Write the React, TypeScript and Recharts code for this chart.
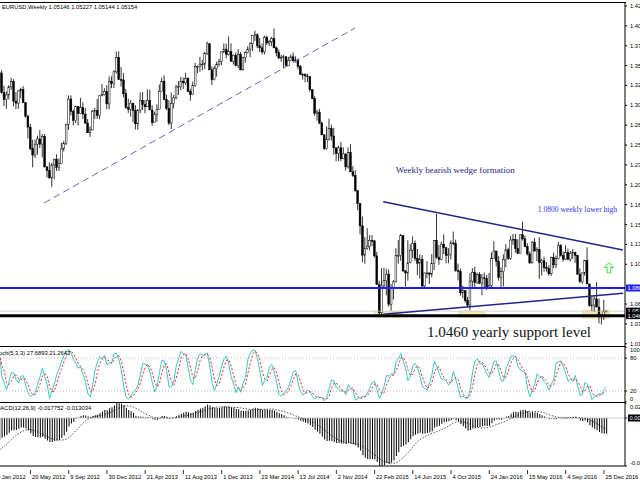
import React from 'react';
import { ComposedChart, Bar, Line, XAxis, YAxis, ReferenceLine, ReferenceArea, ReferenceDot } from 'recharts';

// Weekly EURUSD bars, index 0 = week of 19 Feb 2012 ... index 254 = week of 1 Jan 2017
const firstOpen = 1.3240;
const closes = [
  1.3446,1.3205,1.3120,1.3175,1.3275,1.3340,1.3100,1.3075,1.3225,1.3240,
  1.3080,1.2915,1.2780,1.2515,1.2435,1.2570,1.2635,1.2570,1.2665,1.2290,
  1.2245,1.2155,1.2315,1.2385,1.2285,1.2335,1.2510,1.2580,1.2815,1.3125,
  1.2975,1.2860,1.3035,1.2950,1.3020,1.2940,1.2830,1.2710,1.2745,1.2975,
  1.2985,1.2925,1.3165,1.3180,1.3215,1.3065,1.3345,1.3315,1.3460,1.3635,
  1.3365,1.3360,1.3190,1.3020,1.3000,1.3075,1.2985,1.2820,1.2990,1.3110,
  1.3055,1.3030,1.3110,1.2990,1.2835,1.2935,1.3000,1.3220,1.3345,1.3120,
  1.3010,1.2830,1.3070,1.3140,1.3275,1.3280,1.3345,1.3325,1.3375,1.3220,
  1.3180,1.3290,1.3525,1.3525,1.3555,1.3555,1.3685,1.3805,1.3485,1.3365,
  1.3500,1.3555,1.3590,1.3705,1.3740,1.3675,1.3710,1.3590,1.3665,1.3540,
  1.3675,1.3485,1.3635,1.3695,1.3740,1.3805,1.3910,1.3915,1.3780,1.3755,
  1.3705,1.3885,1.3815,1.3830,1.3870,1.3755,1.3695,1.3630,1.3640,1.3645,
  1.3540,1.3600,1.3645,1.3595,1.3605,1.3525,1.3430,1.3425,1.3410,1.3400,
  1.3240,1.3130,1.2950,1.2965,1.2830,1.2685,1.2515,1.2625,1.2760,1.2670,
  1.2525,1.2455,1.2525,1.2390,1.2450,1.2290,1.2465,1.2230,1.2185,1.2000,
  1.1840,1.1565,1.1205,1.1290,1.1315,1.1385,1.1380,1.1195,1.0845,1.0495,
  1.0825,1.0890,1.0970,1.0600,1.0805,1.0875,1.1200,1.1200,1.1445,1.1010,
  1.0985,1.1110,1.1265,1.1350,1.1165,1.1105,1.1155,1.0825,1.0985,1.0985,
  1.0970,1.1105,1.1385,1.1180,1.1150,1.1340,1.1295,1.1200,1.1215,1.1355,
  1.1350,1.1015,1.1005,1.0740,1.0770,1.0645,1.0590,1.0885,1.0990,1.0865,
  1.0965,1.0860,1.0925,1.0915,1.0795,1.0830,1.1160,1.1255,1.1130,1.0930,
  1.1000,1.1150,1.1270,1.1165,1.1390,1.1400,1.1285,1.1225,1.1455,1.1405,
  1.1310,1.1220,1.1110,1.1365,1.1255,1.1275,1.1115,1.1135,1.1050,1.1040,
  1.0975,1.1175,1.1085,1.1160,1.1325,1.1200,1.1155,1.1235,1.1155,1.1225,
  1.1240,1.1200,1.0970,1.0880,1.0985,1.1140,1.0850,1.0585,1.0590,1.0665,
  1.0565,1.0450,1.0455,1.0515,1.05154,
];
const highs = [
  1.3486,1.3480,1.3290,1.3220,1.3295,1.3385,1.3370,1.3210,1.3235,1.3265,
  1.3285,1.3080,1.2930,1.2820,1.2625,1.2625,1.2675,1.2745,1.2695,1.2695,
  1.2300,1.2345,1.2340,1.2390,1.2445,1.2395,1.2590,1.2610,1.2820,1.3170,
  1.3170,1.2995,1.3045,1.3020,1.3140,1.3085,1.3015,1.2880,1.2790,1.2990,
  1.3015,1.3125,1.3170,1.3310,1.3260,1.3295,1.3405,1.3405,1.3480,1.3711,
  1.3710,1.3520,1.3445,1.3250,1.3130,1.3110,1.3055,1.3050,1.3000,1.3205,
  1.3210,1.3115,1.3245,1.3240,1.3050,1.2970,1.3060,1.3305,1.3390,1.3416,
  1.3180,1.3110,1.3205,1.3175,1.3300,1.3345,1.3400,1.3390,1.3450,1.3395,
  1.3250,1.3340,1.3570,1.3540,1.3645,1.3605,1.3705,1.3832,1.3815,1.3525,
  1.3530,1.3585,1.3620,1.3710,1.3810,1.3810,1.3894,1.3810,1.3675,1.3700,
  1.3740,1.3705,1.3645,1.3715,1.3775,1.3825,1.3915,1.3967,1.3935,1.3875,
  1.3810,1.3905,1.3905,1.3855,1.3890,1.3993,1.3770,1.3735,1.3670,1.3670,
  1.3650,1.3645,1.3675,1.3700,1.3650,1.3625,1.3545,1.3445,1.3445,1.3435,
  1.3400,1.3235,1.3160,1.2995,1.3005,1.2850,1.2690,1.2790,1.2885,1.2810,
  1.2770,1.2530,1.2550,1.2600,1.2530,1.2455,1.2530,1.2570,1.2300,1.2250,
  1.1970,1.1845,1.1680,1.1425,1.1535,1.1450,1.1450,1.1390,1.1245,1.0890,
  1.1045,1.1050,1.1035,1.1030,1.0850,1.0900,1.1290,1.1390,1.1465,1.1440,
  1.1020,1.1385,1.1340,1.1435,1.1385,1.1280,1.1215,1.1205,1.0990,1.1130,
  1.0990,1.1215,1.1390,1.1714,1.1330,1.1370,1.1460,1.1305,1.1290,1.1385,
  1.1495,1.1395,1.1100,1.1040,1.0830,1.0760,1.0690,1.0985,1.1045,1.1060,
  1.0990,1.0995,1.0970,1.0990,1.0960,1.0985,1.1240,1.1376,1.1250,1.1190,
  1.1055,1.1215,1.1340,1.1295,1.1440,1.1465,1.1465,1.1400,1.1460,1.1616,
  1.1445,1.1350,1.1250,1.1375,1.1415,1.1300,1.1425,1.1160,1.1185,1.1120,
  1.1080,1.1185,1.1235,1.1200,1.1365,1.1340,1.1250,1.1325,1.1285,1.1255,
  1.1280,1.1245,1.1210,1.1040,1.0990,1.1145,1.1300,1.0810,1.0690,1.0700,
  1.0875,1.0670,1.0480,1.0653,1.05227,
];
const lows = [
  1.3180,1.3190,1.3040,1.3005,1.3120,1.3240,1.3035,1.3000,1.3005,1.3135,
  1.3080,1.2895,1.2640,1.2495,1.2285,1.2400,1.2440,1.2520,1.2405,1.2285,
  1.2160,1.2145,1.2042,1.2135,1.2240,1.2240,1.2335,1.2480,1.2560,1.2745,
  1.2925,1.2800,1.2830,1.2800,1.2945,1.2880,1.2820,1.2710,1.2660,1.2740,
  1.2880,1.2880,1.2875,1.3160,1.3170,1.3000,1.2998,1.3260,1.3260,1.3440,
  1.3360,1.3280,1.3145,1.3005,1.2955,1.2910,1.2840,1.2750,1.2745,1.2950,
  1.2990,1.2950,1.3030,1.2990,1.2795,1.2840,1.2845,1.3000,1.3220,1.3110,
  1.2990,1.2805,1.2755,1.3010,1.3120,1.3175,1.3235,1.3250,1.3300,1.3210,
  1.3105,1.3180,1.3275,1.3445,1.3460,1.3480,1.3495,1.3665,1.3480,1.3296,
  1.3355,1.3400,1.3525,1.3540,1.3690,1.3625,1.3660,1.3585,1.3550,1.3525,
  1.3505,1.3478,1.3475,1.3575,1.3685,1.3640,1.3715,1.3840,1.3750,1.3705,
  1.3675,1.3675,1.3790,1.3780,1.3775,1.3750,1.3650,1.3615,1.3585,1.3505,
  1.3525,1.3530,1.3590,1.3580,1.3575,1.3490,1.3420,1.3365,1.3330,1.3335,
  1.3215,1.3125,1.2920,1.2860,1.2815,1.2680,1.2500,1.2505,1.2615,1.2615,
  1.2440,1.2360,1.2360,1.2360,1.2385,1.2245,1.2270,1.2225,1.2165,1.1985,
  1.1755,1.1460,1.1115,1.1098,1.1270,1.1260,1.1315,1.1175,1.0835,1.0460,
  1.0458,1.0800,1.0710,1.0570,1.0520,1.0660,1.0870,1.1100,1.1135,1.1000,
  1.0820,1.0890,1.1105,1.1170,1.1130,1.0955,1.0915,1.0810,1.0810,1.0920,
  1.0850,1.0930,1.1020,1.1160,1.1085,1.1140,1.1215,1.1105,1.1105,1.1150,
  1.1325,1.1000,1.0895,1.0705,1.0675,1.0620,1.0560,1.0524,1.0800,1.0805,
  1.0850,1.0850,1.0710,1.0805,1.0775,1.0810,1.0810,1.1160,1.1065,1.0890,
  1.0810,1.0820,1.1055,1.1145,1.1145,1.1330,1.1235,1.1215,1.1245,1.1385,
  1.1300,1.1200,1.1095,1.1100,1.1250,1.1130,1.0910,1.0955,1.1000,1.1000,
  1.0950,1.0950,1.1045,1.1045,1.1150,1.1185,1.1125,1.1145,1.1140,1.1125,
  1.1160,1.1110,1.0965,1.0860,1.0850,1.0950,1.0850,1.0570,1.0518,1.0505,
  1.0565,1.0365,1.0352,1.0405,1.05144,
];

// Date axis (one label every 16 weeks, by bar index)
const dateTickIndex = [-3, 13, 29, 45, 61, 77, 93, 109, 125, 141, 157, 173, 189, 205, 221, 237, 253];
const dateTickLabels = ['29 Jan 2012', '20 May 2012', '9 Sep 2012', '30 Dec 2012', '21 Apr 2013', '11 Aug 2013', '1 Dec 2013', '23 Mar 2014', '13 Jul 2014', '2 Nov 2014', '22 Feb 2015', '14 Jun 2015', '4 Oct 2015', '24 Jan 2016', '15 May 2016', '4 Sep 2016', '25 Dec 2016'];
// price scale labels (the 1.0847 level is hidden behind the 1.08000 box in the reference)
const priceTicks = [1.427, 1.40255, 1.3781, 1.35365, 1.3292, 1.30475, 1.2803, 1.25585, 1.2314, 1.20695, 1.1825, 1.15805, 1.1336, 1.10915, 1.06025, 1.0358, 1.01135];

// Annotations (index, price)
const trendDashed = [{ x: 18.7, y: 1.1846 }, { x: 148.8, y: 1.3999 }];
const wedgeUpper = [{ x: 160.6, y: 1.1862 }, { x: 260.9, y: 1.1268 }];
const wedgeLower = [{ x: 160.6, y: 1.0476 }, { x: 261.0, y: 1.0735 }];
const lowerHighLevel = 1.08;
const supportLevel = 1.046;
const bidLevel = 1.05154;
const supportZones = [
  { x1: 156.7, x2: 168.4, y1: 1.0431, y2: 1.0517 },
  { x1: 191.9, x2: 203.6, y1: 1.0431, y2: 1.0517 },
  { x1: 243.8, x2: 255.5, y1: 1.0420, y2: 1.0535 },
];

// indicator seeds (state of the averages before the first visible bar)
const macdSeedFast = 1.3080;
const macdSeedSlow = 1.3380;
const macdPrior = [-0.040, -0.041, -0.041, -0.040, -0.038, -0.036, -0.034, -0.031];

const X_DOMAIN: [number, number] = [0.25, 261.8];
const PRICE_DOMAIN: [number, number] = [1.00863, 1.43069];

const opens = closes.map((_, i) => (i === 0 ? firstOpen : closes[i - 1]));
opens[254] = 1.05146;

const priceRows = closes.map((c, i) => ({ i, o: opens[i], hi: highs[i], lo: lows[i], c, range: [lows[i], highs[i]] }));

function emaSeries(vals: number[], period: number, seed: number) {
  const a = 2 / (period + 1);
  let e = seed;
  return vals.map((v) => (e = e + a * (v - e)));
}
const ema12 = emaSeries(closes, 12, macdSeedFast);
const ema26 = emaSeries(closes, 26, macdSeedSlow);
const macd = ema12.map((v, i) => v - ema26[i]);
const macdAll = [...macdPrior, ...macd];
const signal = macd.map((_, i) => {
  const w = macdAll.slice(i, i + 9);
  return w.reduce((s, v) => s + v, 0) / w.length;
});
const MACD_DOMAIN: [number, number] = [Math.min(...macd, ...signal), Math.max(...macd, ...signal)];

const kParts = closes.map((c, i) => {
  const s = Math.max(0, i - 4);
  const lo = Math.min(...lows.slice(s, i + 1));
  const hi = Math.max(...highs.slice(s, i + 1));
  return [c - lo, hi - lo];
});
const stochK = kParts.map((_, i) => {
  let n = 0, d = 0;
  for (let j = Math.max(0, i - 2); j <= i; j++) { n += kParts[j][0]; d += kParts[j][1]; }
  return d > 0 ? (n / d) * 100 : 50;
});
const stochD = stochK.map((_, i) => {
  const w = stochK.slice(Math.max(0, i - 2), i + 1);
  return w.reduce((s, v) => s + v, 0) / w.length;
});

const indRows = closes.map((_, i) => ({ i, k: stochK[i], d: stochD[i], macd: macd[i], sig: signal[i] }));

const FONT = 'Liberation Sans, Arial, sans-serif';
const SERIF = 'Liberation Serif, Times New Roman, serif';

const Candle = (props: any) => {
  const { x, y, width, height, payload } = props;
  if (!payload || x == null) return null;
  const top = Math.min(y, y + height);
  const h = Math.abs(height);
  const span = payload.hi - payload.lo || 1e-9;
  const yO = top + ((payload.hi - payload.o) / span) * h;
  const yC = top + ((payload.hi - payload.c) / span) * h;
  const cx = x + width / 2;
  const bull = payload.c >= payload.o;
  const bTop = Math.min(yO, yC);
  const bH = Math.max(0.8, Math.abs(yC - yO));
  return (
    <g>
      <line x1={cx} x2={cx} y1={top} y2={top + h} stroke="#000" strokeWidth={0.8} />
      <rect x={cx - 0.9} y={bTop} width={1.8} height={bH} fill={bull ? '#fff' : '#000'} stroke="#000" strokeWidth={0.5} />
    </g>
  );
};

const PriceTick = (props: any) => {
  const { x, y, payload } = props;
  return (
    <text x={x + 1} y={y + 2} fontSize={5.8} fontFamily={FONT} fill="#000" textAnchor="start">
      {Number(payload.value).toFixed(5)}
    </text>
  );
};

const boxLabel = (text: string, fill: string) => (props: any) => {
  const vb = props.viewBox || {};
  const bx = (vb.x || 0) + (vb.width || 0) + 1;
  const by = vb.y || 0;
  return (
    <g>
      <rect x={bx} y={by - 3.5} width={20} height={7} fill={fill} />
      <text x={bx + 1.5} y={by + 2} fontSize={5.8} fontFamily={FONT} fill="#fff">{text}</text>
    </g>
  );
};

const textShape = (text: string, size: number, color: string, family: string) => (props: any) => (
  <text x={props.cx} y={props.cy} fontSize={size} fill={color} fontFamily={family} textAnchor="start">{text}</text>
);

const arrowShape = (props: any) => {
  const { cx, cy } = props;
  const pts = [[0, -5.5], [4.5, -0.5], [1.8, -0.5], [1.8, 5], [-1.8, 5], [-1.8, -0.5], [-4.5, -0.5]]
    .map(([a, b]) => `${cx + a},${cy + b}`).join(' ');
  return <polygon points={pts} fill="#fff" stroke="#3ee03e" strokeWidth={1} />;
};

const StochTick = (props: any) => {
  const { x, y, payload } = props;
  const v = payload.value;
  const dy = v === 100 ? 4.5 : v === 0 ? -1 : 2;
  return <text x={x + 1} y={y + dy} fontSize={5.8} fontFamily={FONT} fill="#000">{v}</text>;
};

const MacdTick = (props: any) => {
  const { x, y, payload } = props;
  const v = payload.value;
  if (v === 0) {
    return (
      <g>
        <rect x={x - 1} y={y - 3.5} width={16} height={7} fill="#000" />
        <text x={x + 0.5} y={y + 2} fontSize={5.8} fontFamily={FONT} fill="#fff">0.00</text>
      </g>
    );
  }
  const label = v > 0 ? '0.020713' : '-0.057236';
  const dy = v > 0 ? 6 : -1;
  return <text x={x + 1} y={y + dy} fontSize={5.8} fontFamily={FONT} fill="#000">{label}</text>;
};

const DateTick = (props: any) => {
  const { x, y, payload } = props;
  const idx = dateTickIndex.indexOf(payload.value);
  return (
    <g>
      <line x1={x} x2={x} y1={y - 4} y2={y} stroke="#000" strokeWidth={0.8} />
      <text x={x + 1.5} y={y + 5} fontSize={5.8} fontFamily={FONT} fill="#000">{dateTickLabels[idx] || ''}</text>
    </g>
  );
};

export default function App() {
  return (
    <div style={{ position: 'absolute', left: 0, top: 0, width: 640, height: 480, overflow: 'hidden', background: '#fff' }}>
      <div style={{ position: 'absolute', left: 0, top: 0 }}>
        <ComposedChart width={640} height={347} data={priceRows} margin={{ top: 3, right: 0, bottom: 1, left: 0 }}>
          <XAxis dataKey="i" type="number" domain={X_DOMAIN} allowDataOverflow hide />
          <YAxis orientation="right" width={15} domain={PRICE_DOMAIN} allowDataOverflow ticks={priceTicks}
            tick={<PriceTick />} tickSize={2} tickLine={{ stroke: '#000' }} axisLine={{ stroke: '#000' }} interval={0} />
          {supportZones.map((z, n) => (
            <ReferenceArea key={n} x1={z.x1} x2={z.x2} y1={z.y1} y2={z.y2} fill="#ece39a" fillOpacity={0.75} stroke="none" />
          ))}
          <ReferenceLine y={bidLevel} stroke="#c8c8c8" strokeWidth={0.8} label={boxLabel('1.05154', '#000')} />
          <ReferenceLine y={supportLevel} stroke="#000" strokeWidth={3} label={boxLabel('1.04600', '#000')} />
          <ReferenceLine y={lowerHighLevel} stroke="#1e1eee" strokeWidth={2} label={boxLabel('1.08000', '#1e1eee')} />
          <Bar dataKey="range" barSize={2} shape={<Candle />} isAnimationActive={false} />
          <ReferenceLine segment={trendDashed} stroke="#6a6ab4" strokeWidth={1} strokeDasharray="7 4" />
          <ReferenceLine segment={wedgeUpper} stroke="#22228a" strokeWidth={1.5} />
          <ReferenceLine segment={wedgeLower} stroke="#22228a" strokeWidth={1.5} />
          <ReferenceDot x={165.9} y={1.2209} r={0} shape={textShape('Weekly bearish wedge formation', 9, '#26267e', SERIF)} />
          <ReferenceDot x={225.3} y={1.1735} r={0} shape={textShape('1.0800 weekly lower high', 7.6, '#2f2ff5', SERIF)} />
          <ReferenceDot x={178.9} y={1.0197} r={0} shape={textShape('1.0460 yearly support level', 15, '#111', SERIF)} />
          <ReferenceDot x={255.1} y={1.1046} r={0} shape={arrowShape} />
        </ComposedChart>
      </div>
      <div style={{ position: 'absolute', left: 0, top: 347 }}>
        <ComposedChart width={640} height={55} data={indRows} margin={{ top: 0, right: 0, bottom: 0, left: 0 }}>
          <XAxis dataKey="i" type="number" domain={X_DOMAIN} allowDataOverflow hide />
          <YAxis orientation="right" width={15} domain={[0, 100]} ticks={[0, 20, 80, 100]} interval={0}
            tick={<StochTick />} tickSize={2} tickLine={{ stroke: '#000' }} axisLine={{ stroke: '#000' }} />
          <ReferenceLine y={80} stroke="#b8b8b8" strokeDasharray="1 2" />
          <ReferenceLine y={20} stroke="#b8b8b8" strokeDasharray="1 2" />
          <Line dataKey="k" stroke="#3cc8c0" strokeWidth={1} dot={false} isAnimationActive={false} />
          <Line dataKey="d" stroke="#ff2020" strokeWidth={1} strokeDasharray="2 2" dot={false} isAnimationActive={false} />
        </ComposedChart>
      </div>
      <div style={{ position: 'absolute', left: 0, top: 403 }}>
        <ComposedChart width={640} height={77} data={indRows} margin={{ top: 0, right: 0, bottom: 0, left: 0 }}>
          <XAxis dataKey="i" type="number" domain={X_DOMAIN} allowDataOverflow ticks={dateTickIndex} interval={0}
            tick={<DateTick />} tickLine={false} axisLine={{ stroke: '#000' }} height={14} />
          <YAxis orientation="right" width={15} domain={MACD_DOMAIN} allowDataOverflow ticks={[MACD_DOMAIN[0], 0, MACD_DOMAIN[1]]} interval={0}
            tick={<MacdTick />} tickSize={2} tickLine={{ stroke: '#000' }} axisLine={{ stroke: '#000' }} />
          <ReferenceLine y={0} stroke="#c0c0c0" strokeWidth={0.8} />
          <Bar dataKey="macd" fill="#000" barSize={1} isAnimationActive={false} />
          <Line dataKey="sig" stroke="#222" strokeWidth={0.8} strokeDasharray="1.5 1.5" dot={false} isAnimationActive={false} />
        </ComposedChart>
      </div>
      <svg width={640} height={480} style={{ position: 'absolute', left: 0, top: 0, pointerEvents: 'none' }}>
        <line x1={0} x2={626} y1={2.5} y2={2.5} stroke="#000" strokeWidth={1} />
        <line x1={0} x2={626} y1={346.5} y2={346.5} stroke="#000" strokeWidth={1} />
        <line x1={0} x2={626} y1={402.5} y2={402.5} stroke="#000" strokeWidth={1} />
        <text x={2} y={8.5} fontSize={5.8} fontFamily={FONT} fill="#000">EURUSD,Weekly  1.05146 1.05227 1.05144 1.05154</text>
        <text x={-6.5} y={355} fontSize={5.8} fontFamily={FONT} fill="#000">Stoch(5,3,3) 27.6893 21.2643</text>
        <text x={-4.5} y={410} fontSize={5.8} fontFamily={FONT} fill="#000">MACD(12,26,9) -0.017752 -0.013034</text>
      </svg>
    </div>
  );
}
